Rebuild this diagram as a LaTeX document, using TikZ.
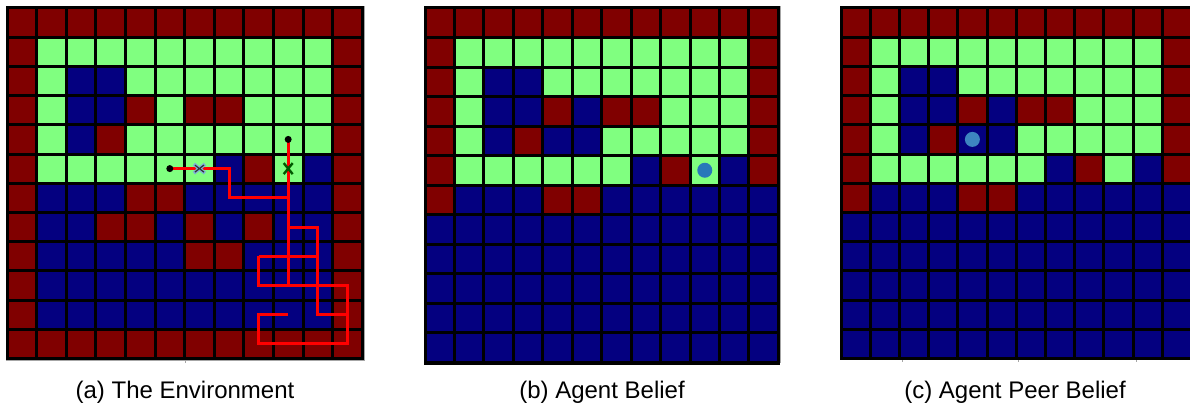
\documentclass[tikz,border=0pt]{standalone}
\usepackage{fontspec}
\setmainfont{Liberation Sans}
\usepackage{xcolor}
\usepackage{tikz}
\usetikzlibrary{positioning}

\definecolor{jetR}{RGB}{128,0,0}
\definecolor{jetG}{RGB}{128,255,128}
\definecolor{jetB}{RGB}{4,0,128}
\definecolor{agentblue}{RGB}{40,120,185}

% shared map of the two belief panels
\newcommand{\beliefrows}{%
  {R,R,R,R,R,R,R,R,R,R,R,R},
  {R,G,G,G,G,G,G,G,G,G,G,R},
  {R,G,B,B,G,G,G,G,G,G,G,R},
  {R,G,B,B,R,B,R,R,G,G,G,R},
  {R,G,B,R,B,B,G,G,G,G,G,R},
  {R,G,G,G,G,G,G,B,R,G,B,R},
  {R,B,B,B,R,R,B,B,B,B,B,B},
  {B,B,B,B,B,B,B,B,B,B,B,B},
  {B,B,B,B,B,B,B,B,B,B,B,B},
  {B,B,B,B,B,B,B,B,B,B,B,B},
  {B,B,B,B,B,B,B,B,B,B,B,B},
  {B,B,B,B,B,B,B,B,B,B,B,B}}

\begin{document}
\begin{tikzpicture}[x=1pt, y=1pt,
  cell/.style={draw=black, line width=3pt},
  route/.style={red, line width=3pt},
  startdot/.style={circle, fill=black, inner sep=0pt, minimum size=7pt},
  agent/.style={circle, fill=agentblue, inner sep=0pt, minimum size=15pt},
  axisline/.style={gray!70, line width=1pt},
  caption/.style={font=\fontsize{24}{28}\selectfont, anchor=base}
]
\useasboundingbox (0,0) rectangle (1190,408);

% ===== (a) Environment =====
\draw[axisline] (6,48) rectangle (364,401);
\draw[axisline] (185,48) -- ++(0,-3);
\begin{scope}[shift={(7pt,400pt)}, x={(29.6pt,0pt)}, y={(0pt,-29.2pt)}]
  \foreach \row [count=\ry from 0] in {
    {R,R,R,R,R,R,R,R,R,R,R,R},
    {R,G,G,G,G,G,G,G,G,G,G,R},
    {R,G,B,B,G,G,G,G,G,G,G,R},
    {R,G,B,B,R,G,R,R,G,G,G,R},
    {R,G,B,R,G,G,G,G,G,G,G,R},
    {R,G,G,G,G,G,G,B,R,G,B,R},
    {R,B,B,B,R,R,B,B,B,B,B,R},
    {R,B,B,R,R,B,R,B,R,B,B,R},
    {R,B,B,B,B,B,R,R,B,B,B,R},
    {R,B,B,B,B,B,B,B,B,B,B,R},
    {R,B,B,B,B,B,B,B,B,B,B,R},
    {R,R,R,R,R,R,R,R,R,R,R,R}} {
    \foreach \v [count=\cx from 0] in \row {
      \filldraw[cell, fill=jet\v] (\cx,\ry) rectangle ++(1,1);
    }
  }
  % trajectories
  \draw[route] (5.5,5.5) -- (7.5,5.5) -- (7.5,6.5) -- (9.5,6.5);
  \draw[route] (9.5,4.5) -- (9.5,9.5);
  \draw[route] (9.5,7.5) -- (10.5,7.5) -- (10.5,10.5) -- (11.5,10.5);
  \draw[route] (8.5,8.5) -- (10.5,8.5);
  \draw[route] (8.5,8.5) -- (8.5,9.5) -- (11.5,9.5) -- (11.5,11.5) -- (8.5,11.5) -- (8.5,10.5) -- (9.5,10.5);
  \node[startdot] (startA) at (5.5,5.5) {};
  \node[startdot] (startB) at (9.5,4.5) {};
  % goal crosses
  \draw[agentblue!60, line width=3.5pt] (6.5,5.5) ++(-5.5pt,-4.5pt) -- ++(11pt,9pt) ++(0,-9pt) -- ++(-11pt,9pt);
  \draw[black!80, line width=1.2pt] (6.5,5.5) ++(-4.5pt,-3.5pt) -- ++(9pt,7pt) ++(0,-7pt) -- ++(-9pt,7pt);
  \draw[green!35!black, line width=2.4pt] (9.5,5.5) ++(-4.5pt,-5.5pt) -- ++(9pt,11pt) ++(0,-11pt) -- ++(-9pt,11pt);
\end{scope}

% ===== (b) Agent belief =====
\draw[axisline] (424,46) rectangle (780,401);
\begin{scope}[shift={(425pt,400pt)}, x={(29.45pt,0pt)}, y={(0pt,-29.5pt)}]
  \foreach \row [count=\ry from 0] in \beliefrows {
    \foreach \v [count=\cx from 0] in \row {
      \filldraw[cell, fill=jet\v] (\cx,\ry) rectangle ++(1,1);
    }
  }
  \draw[black, line width=2pt] (0,12) ++(-1pt,-1.5pt) -- ++(356pt,0);
  \node[agent] (selfB) at (9.5,5.5) {};
\end{scope}

% ===== (c) Agent peer belief =====
\begin{scope}
  \clip (830,0) rectangle (1190,408);
  \draw[axisline] (840,49) rectangle (1200,401);
  \foreach \tx in {902,1018,1136} { \draw[axisline] (\tx,49) -- ++(0,-3); }
  \begin{scope}[shift={(841pt,400pt)}, x={(29.2pt,0pt)}, y={(0pt,-29.2pt)}]
    \foreach \row [count=\ry from 0] in \beliefrows {
      \foreach \v [count=\cx from 0] in \row {
        \filldraw[cell, fill=jet\v] (\cx,\ry) rectangle ++(1,1);
      }
    }
    \node[agent, fill=agentblue!90!white] (peerC) at (4.5,4.5) {};
  \end{scope}
\end{scope}

% Captions
\node[caption] (capA) at (185,10) {(a) The Environment};
\node[caption] (capB) at (602,10) {(b) Agent Belief};
\node[caption] (capC) at (1015,10) {(c) Agent Peer Belief};

\end{tikzpicture}
\end{document}
